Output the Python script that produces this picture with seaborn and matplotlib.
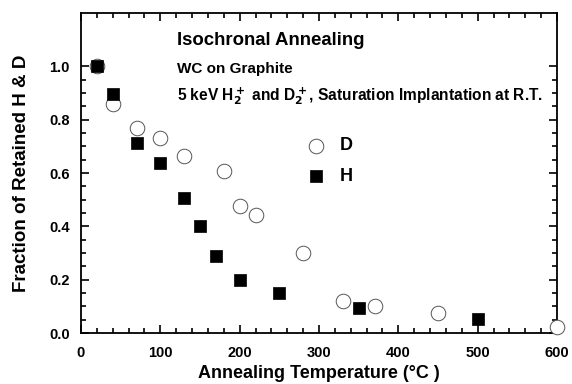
import seaborn as sns
import matplotlib.pyplot as plt
import matplotlib.ticker as mticker
import pandas as pd

# deuterium (open circles)
d_temp = [20, 40, 70, 100, 130, 180, 200, 220, 280, 330, 370, 450, 600]
d_frac = [1.0, 0.857, 0.768, 0.731, 0.663, 0.607, 0.477, 0.442, 0.30, 0.121, 0.101, 0.074, 0.021]
# hydrogen (filled squares)
h_temp = [20, 40, 70, 100, 130, 150, 170, 200, 250, 350, 500]
h_frac = [1.0, 0.895, 0.714, 0.638, 0.508, 0.40, 0.288, 0.197, 0.149, 0.095, 0.052]

x_ticks = [0, 100, 200, 300, 400, 500, 600]
y_ticks = [0.0, 0.2, 0.4, 0.6, 0.8, 1.0]

df_d = pd.DataFrame({"temp": d_temp, "frac": d_frac})
df_h = pd.DataFrame({"temp": h_temp, "frac": h_frac})

sns.set_style("ticks")
plt.rcParams.update({
    "font.family": ["Liberation Sans", "DejaVu Sans"],
    "font.weight": "bold",
    "text.color": "black",
    "axes.labelcolor": "black",
    "axes.edgecolor": "black",
    "axes.axisbelow": False,
    "xtick.color": "black",
    "ytick.color": "black",
    "xtick.direction": "in",
    "ytick.direction": "in",
    "xtick.top": True,
    "ytick.right": True,
    "xtick.major.size": 6,
    "ytick.major.size": 6,
    "xtick.minor.size": 3.5,
    "ytick.minor.size": 3.5,
    "xtick.major.width": 1.2,
    "ytick.major.width": 1.2,
    "xtick.minor.width": 1.2,
    "ytick.minor.width": 1.2,
    "mathtext.default": "bf",
})

fig = plt.figure(figsize=(5.72, 3.84), dpi=100)
ax = fig.add_axes([0.1416, 0.1328, 0.8322, 0.8333])

sns.scatterplot(data=df_d, x="temp", y="frac", marker="o", s=110,
                facecolor="white", edgecolor="#555555", linewidth=0.7,
                label="D", ax=ax, zorder=3, clip_on=False)
sns.scatterplot(data=df_h, x="temp", y="frac", marker="s", s=75,
                color="black", edgecolor="black", linewidth=0.5,
                label="H", ax=ax, zorder=4, clip_on=False)

ax.set_xlim(0, 600)
ax.set_ylim(0, 1.2)
ax.set_xticks(x_ticks)
ax.set_yticks(y_ticks)
ax.set_yticklabels([f"{v:.1f}" for v in y_ticks])
ax.xaxis.set_minor_locator(mticker.MultipleLocator(20))
ax.yaxis.set_minor_locator(mticker.FixedLocator([i * 0.05 for i in range(21)]))
ax.tick_params(which="both", direction="in", top=True, right=True,
               bottom=True, left=True, width=1.2, color="black")
ax.tick_params(which="major", length=6, labelsize=10.5)
ax.tick_params(which="minor", length=3.5)
ax.tick_params(axis="x", which="major", pad=9)
ax.tick_params(axis="y", which="major", pad=8)
for lab in ax.get_xticklabels() + ax.get_yticklabels():
    lab.set_fontweight("bold")
for sp in ax.spines.values():
    sp.set_linewidth(1.3)
    sp.set_color("black")

ax.set_xlabel("Annealing Temperature (°C )", fontsize=13, fontweight="bold", labelpad=4)
ax.set_ylabel("Fraction of Retained H & D", fontsize=13.5, fontweight="bold", labelpad=14)

ax.text(121, 1.097, "Isochronal Annealing", fontsize=13.4, fontweight="bold", va="center")
ax.text(121, 0.99, "WC on Graphite", fontsize=11, fontweight="bold", va="center")
ax.text(121, 0.888, r"5 keV H$_2^+$ and D$_2^+$, Saturation Implantation at R.T.",
        fontsize=11.2, fontweight="bold", va="center")

ax.legend(loc="upper left", bbox_to_anchor=(0.437, 0.64), frameon=False,
          handletextpad=0.3, labelspacing=0.75, borderpad=0,
          prop={"weight": "bold", "size": 13})

fig.savefig("out.png", dpi=100)
